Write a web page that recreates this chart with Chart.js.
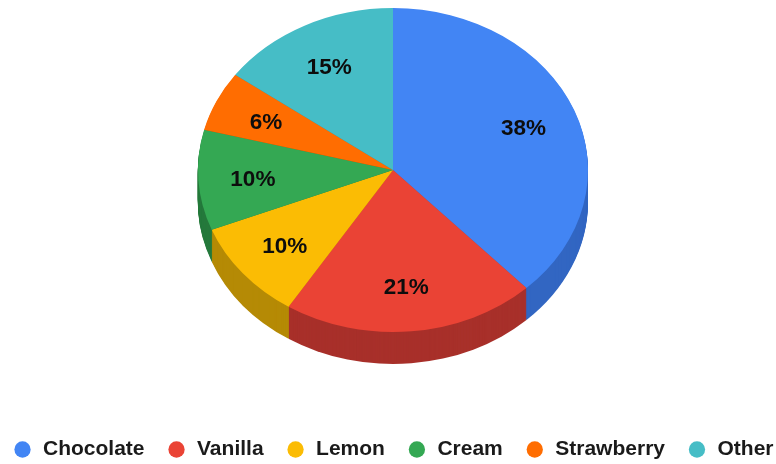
<!DOCTYPE html>
<html>
<head>
<meta charset="utf-8">
<script src="https://cdn.jsdelivr.net/npm/chart.js@4"></script>
<style>
  html, body { margin: 0; padding: 0; background: #fff; }
  #wrap { width: 776px; height: 464px; }
</style>
</head>
<body>
<div id="wrap"><canvas id="c" width="776" height="464"></canvas></div>
<script>
// ---- data ----
const categories = ['Chocolate', 'Vanilla', 'Lemon', 'Cream', 'Strawberry', 'Other'];
const shares = [38, 21, 10, 10, 6, 15];
const topColors = ['#4285F4', '#EA4335', '#FBBC04', '#34A853', '#FF6D01', '#46BDC6'];
const sideColors = ['#3266C2', '#A8302A', '#B58A05', '#25793C', '#B44D01', '#318890'];

// ---- 3D look ----
const TILT = 162 / 195;   // vertical squash of the pie face
const DEPTH = 32;         // thickness of the pie in px
const TOP_GAP = 8;        // gap between chart area top and top of the face
const SHIFT_X = 5;        // small horizontal nudge of the pie
const LABEL_FRAC = 0.72;  // label radius as fraction of outer radius
const FONT = '"Liberation Sans", Arial, Helvetica, sans-serif';

function faceCenterY(chart, arc) {
  return chart.chartArea.top + TOP_GAP + arc.outerRadius * TILT;
}

function faceTransform(chart, ctx, arc, dy) {
  ctx.translate(arc.x + SHIFT_X, faceCenterY(chart, arc) + dy);
  ctx.scale(1, TILT);
  ctx.translate(-arc.x, -arc.y);
}

const pie3d = {
  id: 'pie3d',
  beforeDatasetsDraw(chart) {
    const ctx = chart.ctx;
    const arcs = chart.getDatasetMeta(0).data;
    // extruded side
    for (let d = DEPTH; d >= 1; d--) {
      ctx.save();
      faceTransform(chart, ctx, arcs[0], d);
      arcs.forEach((a, i) => {
        ctx.beginPath();
        ctx.moveTo(a.x, a.y);
        ctx.arc(a.x, a.y, a.outerRadius, a.startAngle, a.endAngle);
        ctx.closePath();
        ctx.fillStyle = sideColors[i];
        ctx.fill();
      });
      ctx.restore();
    }
    ctx.save();
    faceTransform(chart, ctx, arcs[0], 0);
  },
  afterDatasetsDraw(chart) {
    const ctx = chart.ctx;
    ctx.restore();
    const arcs = chart.getDatasetMeta(0).data;
    const cy = faceCenterY(chart, arcs[0]);
    ctx.save();
    ctx.font = 'bold 22.5px ' + FONT;
    ctx.fillStyle = '#0d0d0d';
    ctx.textAlign = 'center';
    ctx.textBaseline = 'middle';
    arcs.forEach((a, i) => {
      const mid = (a.startAngle + a.endAngle) / 2;
      const x = a.x + SHIFT_X + Math.cos(mid) * a.outerRadius * LABEL_FRAC;
      const y = cy + Math.sin(mid) * a.outerRadius * LABEL_FRAC * TILT;
      ctx.fillText(shares[i] + '%', x, y + 2);
    });
    ctx.restore();
  }
};

new Chart(document.getElementById('c'), {
  type: 'pie',
  data: {
    labels: categories,
    datasets: [{
      data: shares,
      backgroundColor: topColors,
      borderWidth: 0,
      radius: 195
    }]
  },
  options: {
    responsive: false,
    animation: false,
    events: [],
    layout: { padding: { left: -29, right: -39, top: 0, bottom: -6 } },
    plugins: {
      tooltip: { enabled: false },
      legend: {
        position: 'bottom',
        labels: {
          usePointStyle: true,
          pointStyle: 'circle',
          boxWidth: 20,
          boxHeight: 11.5,
          padding: 22,
          color: '#1a1a1a',
          font: { family: FONT, size: 21, weight: 'bold' }
        }
      }
    }
  },
  plugins: [pie3d]
});
</script>
</body>
</html>
